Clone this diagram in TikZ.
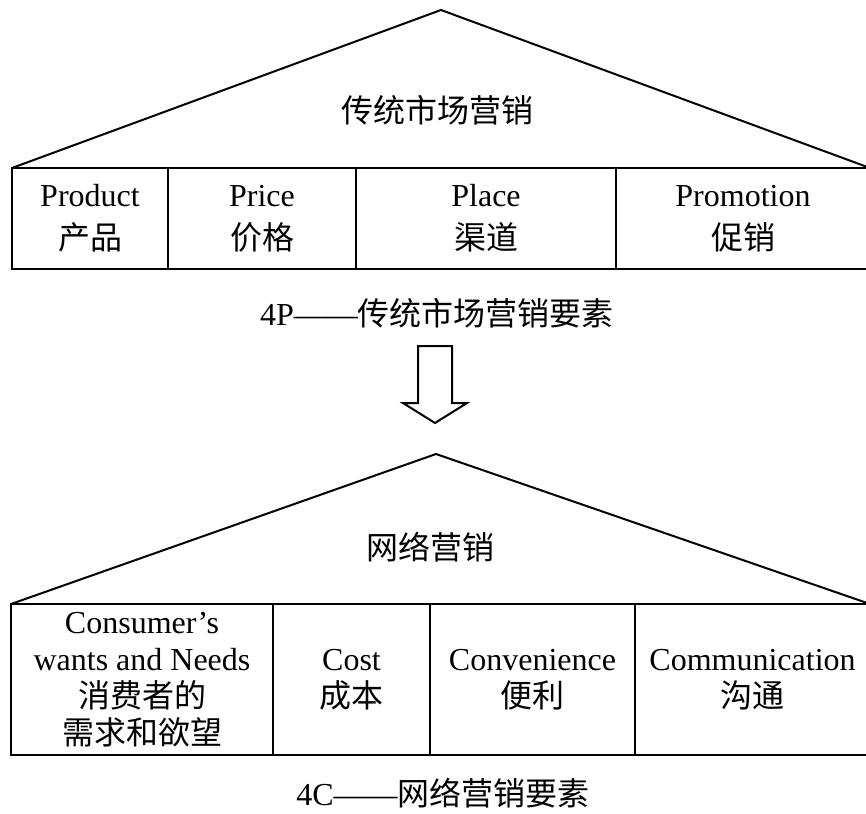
\documentclass[tikz,border=0pt]{standalone}
\usepackage{fontspec}
\setmainfont{Liberation Serif}
\newfontfamily\cjk{Noto Sans CJK SC}
\begin{document}
\begin{tikzpicture}[x=1pt,y=-1pt,line width=2pt,line join=miter,
  cellA/.style={draw,line width=2pt,align=center,inner sep=0pt,outer sep=0pt,
    minimum height=101pt,font=\fontsize{32}{43}\selectfont},
  cellB/.style={draw,line width=2pt,align=center,inner sep=0pt,outer sep=0pt,
    minimum height=151pt,font=\fontsize{32}{37}\selectfont},
  label/.style={inner sep=0pt,font=\fontsize{32}{38}\selectfont},
  roof/.style={line width=2pt},
  bigarrow/.style={draw,line width=2pt,fill=white}]
\useasboundingbox (0,0) rectangle (866,813);
\clip (0,0) rectangle (866,813);
% top table
\node[cellA,minimum width=156pt] (p1) at (90,218.5) {Product\\{\cjk 产品}};
\node[cellA,minimum width=188pt] (p2) at (262,218.5) {Price\\{\cjk 价格}};
\node[cellA,minimum width=260pt] (p3) at (486,218.5) {Place\\{\cjk 渠道}};
\node[cellA,minimum width=254pt] (p4) at (743,218.5) {Promotion\\{\cjk 促销}};
\coordinate (apex1) at (441,10);
\draw[roof] (p1.north west) -- (apex1) -- (p4.north east);
\node[label] (t1) at (437,110) {\cjk 传统市场营销};
\node[label] (cap1) at (437,313) {4P——{\cjk 传统市场营销要素}};
% arrow
\draw[bigarrow] (418,346) -- (452,346) -- (452,403) -- (467,403) -- (435,423) -- (403,403) -- (418,403) -- cycle;
% bottom table
\node[cellB,minimum width=262pt] (c1) at (142,679.5) {Consumer’s\\wants and Needs\\{\cjk 消费者的}\\{\cjk 需求和欲望}};
\node[cellB,minimum width=157pt] (c2) at (351.5,679.5) {Cost\\{\cjk 成本}};
\node[cellB,minimum width=205pt] (c3) at (532.5,679.5) {Convenience\\{\cjk 便利}};
\node[cellB,minimum width=235pt] (c4) at (752.5,679.5) {Communication\\{\cjk 沟通}};
\coordinate (apex2) at (436,454);
\draw[roof] (c1.north west) -- (apex2) -- (c4.north east);
\node[label] (t2) at (430,547) {\cjk 网络营销};
\node[label] (cap2) at (443,793) {4C——{\cjk 网络营销要素}};
\end{tikzpicture}
\end{document}
